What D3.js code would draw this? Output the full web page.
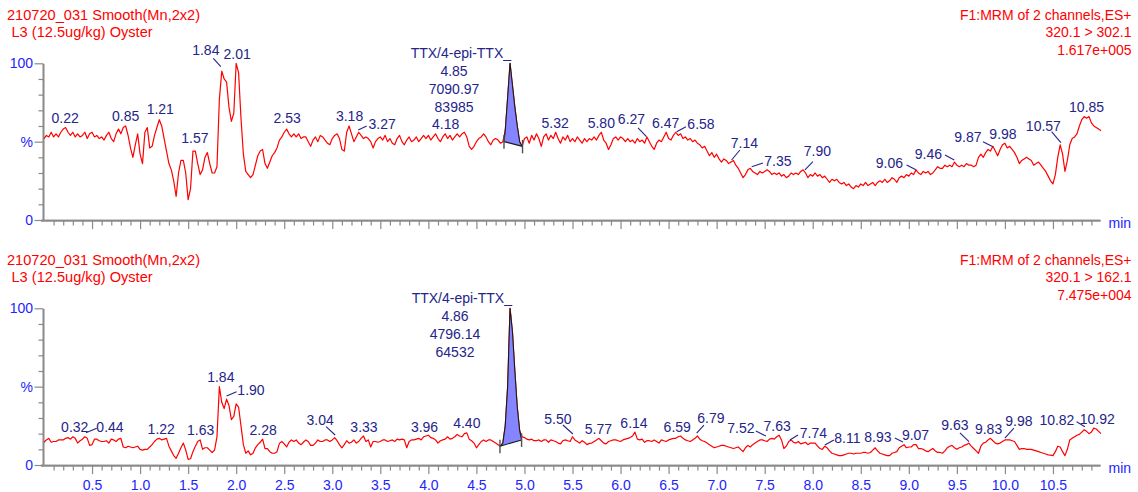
<!DOCTYPE html>
<html><head><meta charset="utf-8">
<script src="https://cdn.jsdelivr.net/npm/d3@7"></script>
<style>
html,body{margin:0;padding:0;background:#fff;}
svg{display:block;font-family:"Liberation Sans",Arial,sans-serif;}
</style></head><body>
<svg id="chart" width="1138" height="492"></svg>
<script>
// ---------------- DATA ----------------
const timeStep = 0.025; // min between sampled points, starting at 0.0 min
// Channel 320.1 > 302.1 (% of 1.617e+005), one row per half minute
const topIntensity = [
52,54,53,56,53,55,53,56,58,59,56,54,56,53,55,53,54,56,52,55,
56,53,54,52,53,51,54,56,52,50,55,58,55,59,60,54,46,40,48,55,
42,36,56,59,46,47,54,59,64,60,52,44,36,32,25,15,30,38,38,30,
13,20,44,44,36,29,32,40,43,36,30,30,34,77,95,90,88,72,63,68,
100,94,65,42,31,29,27,29,35,41,44,45,36,33,37,41,43,46,51,53,
56,58,55,53,55,53,55,52,53,53,50,47,51,53,50,54,53,51,49,48,
52,54,55,52,45,44,56,60,55,50,53,56,54,52,53,52,50,46,50,52,
53,51,54,50,52,49,48,52,54,50,48,51,53,50,51,53,50,52,54,52,
54,51,53,55,52,50,53,55,52,54,51,53,55,53,55,56,53,47,45,47,
50,52,53,55,53,50,48,51,52,51,49,50,57,78,100,86,72,60,50,47,
52,53,49,54,51,55,52,47,53,55,51,54,52,56,52,49,53,51,54,50,
52,50,53,51,49,52,50,52,51,53,51,54,56,51,49,45,48,52,53,51,
53,52,50,52,50,51,49,52,50,51,49,53,50,47,45,49,51,50,53,56,
52,51,54,56,54,55,52,53,51,52,50,51,49,48,46,47,44,41,43,40,
42,39,37,39,38,36,37,38,35,33,30,27,29,32,33,31,30,29,31,30,
31,32,31,29,30,29,30,28,29,27,28,30,29,30,29,31,32,30,27,29,
28,30,28,29,27,28,26,24,26,25,26,24,23,24,22,23,21,20,22,21,
23,22,24,22,23,24,22,24,25,24,26,24,25,27,26,24,27,28,27,29,
28,30,29,32,30,29,31,30,31,29,30,32,34,33,33,35,34,35,34,37,
35,34,35,34,36,35,35,34,35,40,42,40,43,45,44,47,44,41,45,48,
49,46,47,45,43,40,36,38,39,40,39,38,35,36,37,35,33,31,28,25,
23,29,40,48,42,31,38,48,52,53,55,60,64,66,65,66,62,60,59,58,
57];
// Channel 320.1 > 162.1 (% of 7.475e+004)
const bottomIntensity = [
14.5,16,17,14.5,15,15,16,16,16,17,17.5,16.5,18,17,14,15.5,16.5,18,17,12.5,
13,16.5,16.5,15.5,15,15,15.5,14,16.5,16,15,16.5,17,11.5,11,12,11.5,11,11.5,12,
10,9.5,10,10,11.5,13,15,16.5,17,16,16.5,17,12,9,6,4.3,7.5,11,14,9.5,
3.6,4,8.5,12,15,16,10,11,11,9.5,8,9.5,18,50,40,36,42,38,29,31,
39,37,25,13,7.5,9,6.5,7.5,11,13,14.5,16.5,10.5,10.5,8.5,7.5,7.5,8.5,13.8,15,
13.5,11.5,14.5,16,15,16,14,13,14.5,16,15,12.5,12.5,14,16,15,15,16,16,15,
16,17.5,15.5,13,11,13,15.5,14,14.5,16,14,15,17,18.5,15,16,11.5,15,15,14.5,
15,16,16,15,15.5,16,15,16.5,16,16.5,16,11,15,16,16,16.5,17,16,18,18.5,
19,17.5,17,16,14,15.5,16,16.5,18,16.5,17,18,19.5,18.5,18,20,20.5,16.5,15.5,14,
11,13,15,16,15,16,16,15,14,13,12,14,25,50,100,85,60,37,22,18,
17.5,16.5,16,16.5,15.5,15.5,16,15,16,16,14.5,16,15.5,15,14,13.5,15.5,16,15.5,15,
18,16,15,14,15.5,14.5,13,13.8,14,15,16,17,15.5,14,13.5,15,15.5,16,16,15.5,
15,16,16.5,17,17.5,18.5,21,16.5,16,16.5,14.5,15.5,15.5,15,16,15,14,16,15.5,15,
16,16.5,17,17,18,18.5,17,16,15.5,15,16,17,18.5,16.5,15.5,15,14,13,12,11,
11.5,12,12.5,12.5,12,11.5,11,10.5,11,11.5,10,8.5,11,12.5,11.5,13,14,15,16,16,
15.5,15,16.5,17,16.5,18,19,16,10.5,12,15,16,14.5,14,15,13.5,14,14.5,13,14,
14,14,12,10.5,10,12,11,9,7.5,7,6.5,6,6,6.5,7,7.5,7.5,7,7.5,7.5,
7.5,8,8,7.5,8,9.5,11,9,7.5,7,6.5,6,6,7.5,8,8.5,11,12,13,11,
11.5,11.5,13,13,10.5,10.5,10,9,8.5,9.5,10.5,9,8,8,7.5,9,11,12,12.5,11,
10,11,11.5,12.5,13,14,12,10.5,9,7.5,12,14,14.5,16,17,15.5,14,13.5,14,15,
16,16,16,15.5,15,12.5,10,10.5,10.5,10,10,10,9.5,9,8.5,8,7.5,7,6.5,6.3,
6,8.5,12,11.5,8.5,6,10,16,17,18,19,19.5,21,22.5,21.5,20,21,23.5,23,21.5,
20];

const xTickLabels = ["0.5","1.0","1.5","2.0","2.5","3.0","3.5","4.0","4.5","5.0","5.5","6.0","6.5","7.0","7.5","8.0","8.5","9.0","9.5","10.0","10.5"];
const yTickLabels = ["0","%","100"];
const xUnit = "min";

const topTitle = ["210720_031 Smooth(Mn,2x2)", "L3 (12.5ug/kg) Oyster"];
const topInfo = ["F1:MRM of 2 channels,ES+", "320.1 > 302.1", "1.617e+005"];
const bottomTitle = ["210720_031 Smooth(Mn,2x2)", "L3 (12.5ug/kg) Oyster"];
const bottomInfo = ["F1:MRM of 2 channels,ES+", "320.1 > 162.1", "7.475e+004"];

// peak labels: [text, retention time, apex %]
const topPeakLabels = [
["0.22",0.22,59],["0.85",0.85,60],["1.21",1.21,65],["1.57",1.57,46],["1.84",1.84,97],
["2.01",2.01,100],["2.53",2.53,59],["3.18",3.18,60],["3.27",3.27,55],["4.18",4.18,55],
["5.32",5.32,56],["5.80",5.80,56],["6.27",6.27,53],["6.47",6.47,56],["6.58",6.58,56],
["7.14",7.14,37],["7.35",7.35,33],["7.90",7.90,32],["9.06",9.06,32],["9.46",9.46,37],
["9.87",9.87,47],["9.98",9.98,49],["10.57",10.57,49],["10.85",10.85,66]];
const bottomPeakLabels = [
["0.32",0.32,18],["0.44",0.44,18],["1.22",1.22,17],["1.63",1.63,16],["1.84",1.84,50],
["1.90",1.90,42],["2.28",2.28,16.5],["3.04",3.04,17.5],["3.33",3.33,18.5],["3.96",3.96,18.5],
["4.40",4.40,20.5],["5.50",5.50,18],["5.77",5.77,17],["6.14",6.14,21],["6.59",6.59,18.5],
["6.79",6.79,18.5],["7.52",7.52,15.5],["7.63",7.63,19],["7.74",7.74,15],["8.11",8.11,12],
["8.93",8.93,12.5],["9.07",9.07,13],["9.63",9.63,14],["9.83",9.83,17],["9.98",9.98,16],
["10.82",10.82,22.5],["10.92",10.92,23.5]];

// integrated peak: name, RT, area, height ; baseline start/end [time, %]
const topPeakInfo = ["TTX/4-epi-TTX_", "4.85", "7090.97", "83985"];
const topPeakBaseline = [[4.787,50],[4.98,47]];
const bottomPeakInfo = ["TTX/4-epi-TTX_", "4.86", "4796.14", "64532"];
const bottomPeakBaseline = [[4.745,12],[4.97,16]];

// ---------------- LAYOUT ----------------
const labelLayout = {
 "top:1.84": {dx:-15, dy:-13, lead:[-7.5,-9.7,0,-1.3]},
 "top:3.27": {dx:24, dy:-4.5, lead:[0,-3.8,8.5,-7.8]},
 "top:6.27": {dx:-15, dy:-12.5, lead:[-8.5,-9,0,-0.3]},
 "top:6.58": {dx:24.7, dy:-3, lead:[0.4,-0.6,9.7,-5.6]},
 "top:7.14": {dx:14.3, dy:-14.5, lead:[1.5,-2,9.8,-12]},
 "top:7.35": {dx:27.7, dy:-2.3, lead:[1.4,-1.6,12.7,-5.3]},
 "top:7.90": {dx:14.3, dy:-14, lead:[1.8,0,9.8,-8.2]},
 "top:9.06": {dx:-25.2, dy:-2, lead:[-8,-4.9,1.3,0]},
 "top:9.46": {dx:-24.6, dy:-3.5, lead:[-8,-7,1.2,-2]},
 "top:9.87": {dx:-24.5, dy:-4.4, lead:[-9.5,-4.7,0.5,0.3]},
 "top:10.57": {dx:-16.3, dy:-12.7, lead:[-8.1,-11.5,1.2,-0.5]},
 "bottom:0.44": {dx:23.7, dy:-4.8, lead:[-0.3,-4.1,10.4,-8.5]},
 "bottom:1.90": {dx:24.4, dy:-4.2, lead:[0,-3.2,10,-7.5]},
 "bottom:3.04": {dx:-16, dy:-13, lead:[-10,-11,-1,-2.6]},
 "bottom:5.50": {dx:-14.6, dy:-12.8, lead:[-9.6,-11.8,0.4,-2.8]},
 "bottom:6.79": {dx:14.5, dy:-13.5, lead:[0.2,-3,7.5,-11]},
 "bottom:7.52": {dx:-25.7, dy:-8.2, lead:[-10.7,-9.7,-0.7,-4.7]},
 "bottom:7.74": {dx:25.7, dy:-3.5, lead:[2.2,-1.5,10.2,-6.5]},
 "bottom:8.11": {dx:24.1, dy:-2.7, lead:[1.6,-1.2,10.6,-6.2]},
 "bottom:8.93": {dx:-24.2, dy:-3.4, lead:[-7.2,-7.4,0.8,-3.4]},
 "bottom:9.63": {dx:-14.4, dy:-13.1, lead:[-9.4,-10.1,-0.4,-1.4]},
 "bottom:9.98": {dx:15.9, dy:-13.9, lead:[1.9,-1.9,10.9,-11.9]},
 "bottom:10.82": {dx:-26.8, dy:-4.7, lead:[-7.1,-8,1.2,-3]},
 "bottom:10.92": {dx:4, dy:-4}
};

const RED = "#ff0000", BLUE = "#2323ff", NAVY = "#24248a", GREY = "#8a8a8a";
const FONT = 14, TITLE_FONT = 14.6;

const svg = d3.select("#chart");
const x = d3.scaleLinear().domain([0, 11]).range([44, 1101]);

function drawPanel(key, yBase, values, title, info, peakLabels, peakInfo, baseline, showXLabels) {
  const g = svg.append("g");
  const y = d3.scaleLinear().domain([0, 100]).range([yBase, yBase - 156.7]);
  const pts = values.map((v, i) => [i * timeStep, v]);

  // headers
  g.append("text").attr("x", 7).attr("y", yBase - 200.5).attr("fill", RED).attr("font-size", TITLE_FONT).text(title[0]);
  g.append("text").attr("x", 11.5).attr("y", yBase - 183).attr("fill", RED).attr("font-size", TITLE_FONT).text(title[1]);
  info.forEach((s, i) => g.append("text").attr("x", 1131.5).attr("y", yBase - 200.5 + i * 17.5)
    .attr("text-anchor", "end").attr("fill", RED).attr("font-size", FONT).text(s));

  // x axis (minor + major)
  const xa = g.append("g").attr("transform", `translate(0,${yBase + 0.6})`);
  const minor = d3.range(1, 110).map(d => d / 10).filter(d => Math.abs(d * 2 - Math.round(d * 2)) > 1e-6);
  const majors = xTickLabels.map(Number);
  xa.append("g").call(d3.axisBottom(x).tickValues(minor).tickSize(5).tickSizeOuter(0).tickFormat(""));
  xa.append("g").call(d3.axisBottom(x).tickValues(majors).tickSize(8.5).tickSizeOuter(0)
      .tickFormat((d, i) => showXLabels ? xTickLabels[i] : "").tickPadding(6));
  xa.selectAll("path.domain").attr("stroke", GREY).attr("stroke-width", 1.6).attr("d", "M41,0H1100.5");
  xa.selectAll(".tick line").attr("stroke", GREY).attr("stroke-width", 1.2);
  xa.selectAll(".tick text").attr("fill", BLUE).attr("font-size", FONT).attr("font-family", "Liberation Sans, Arial, sans-serif");
  g.append("text").attr("x", 1108.5).attr("y", yBase + 8).attr("fill", BLUE).attr("font-size", FONT).text(xUnit);

  // y axis
  const ya = g.append("g").attr("transform", "translate(43,0)");
  ya.append("g").call(d3.axisLeft(y).tickValues(d3.range(10, 100, 10).filter(d => d !== 50)).tickSize(4.5).tickSizeOuter(0).tickFormat(""));
  ya.append("g").call(d3.axisLeft(y).tickValues([0, 50, 100]).tickSize(8.5).tickSizeOuter(0)
      .tickFormat((d, i) => yTickLabels[i]).tickPadding(1.5));
  ya.selectAll("path.domain").attr("stroke", GREY).attr("stroke-width", 1.6);
  ya.selectAll(".tick line").attr("stroke", GREY).attr("stroke-width", 1.2);
  ya.selectAll(".tick text").attr("fill", BLUE).attr("font-size", FONT).attr("font-family", "Liberation Sans, Arial, sans-serif");

  // trace
  const line = d3.line().x(d => x(d[0])).y(d => y(d[1]));
  g.append("path").datum(pts).attr("d", line).attr("fill", "none").attr("stroke", RED).attr("stroke-width", 1.2).attr("stroke-linejoin", "round");

  // integrated peak
  const [s, e] = baseline;
  const poly = [s].concat(pts.filter(p => p[0] > s[0] + 1e-6 && p[0] < e[0] - 1e-6)).concat([e]);
  g.append("path").attr("d", line(poly) + "Z").attr("fill", "#8585ff").attr("stroke", "#1a1a1a").attr("stroke-width", 1.1).attr("stroke-linejoin", "round");
  [s, e].forEach(p => g.append("line").attr("x1", x(p[0])).attr("x2", x(p[0]))
    .attr("y1", y(p[1]) - 6.5).attr("y2", y(p[1]) + 7).attr("stroke", "#505050").attr("stroke-width", 1.4));

  // integrated peak label block
  const rtx = x(+peakInfo[1]);
  const apexY = y(100);
  g.append("text").attr("x", rtx + 1).attr("y", apexY - 5.5).attr("text-anchor", "end").attr("fill", NAVY).attr("font-size", FONT).text(peakInfo[0]);
  peakInfo.slice(1).forEach((s2, i) => g.append("text").attr("x", rtx - 56).attr("y", apexY + 13 + i * 17.8)
    .attr("text-anchor", "middle").attr("fill", NAVY).attr("font-size", FONT).text(s2));

  // peak labels
  peakLabels.forEach(([txt, t, v]) => {
    const lay = labelLayout[key + ":" + txt] || {dx: 0, dy: -4.5};
    const px = x(t), py = y(v);
    g.append("text").attr("x", px + lay.dx).attr("y", py + lay.dy).attr("text-anchor", "middle")
      .attr("fill", NAVY).attr("font-size", FONT).text(txt);
    if (lay.lead) {
      const l = lay.lead;
      g.append("line").attr("x1", px + l[0]).attr("y1", py + l[1]).attr("x2", px + l[2]).attr("y2", py + l[3])
        .attr("stroke", NAVY).attr("stroke-width", 1.1);
    }
  });
}

drawPanel("top", 220, topIntensity, topTitle, topInfo, topPeakLabels, topPeakInfo, topPeakBaseline, false);
drawPanel("bottom", 465, bottomIntensity, bottomTitle, bottomInfo, bottomPeakLabels, bottomPeakInfo, bottomPeakBaseline, true);
</script>
</body></html>
